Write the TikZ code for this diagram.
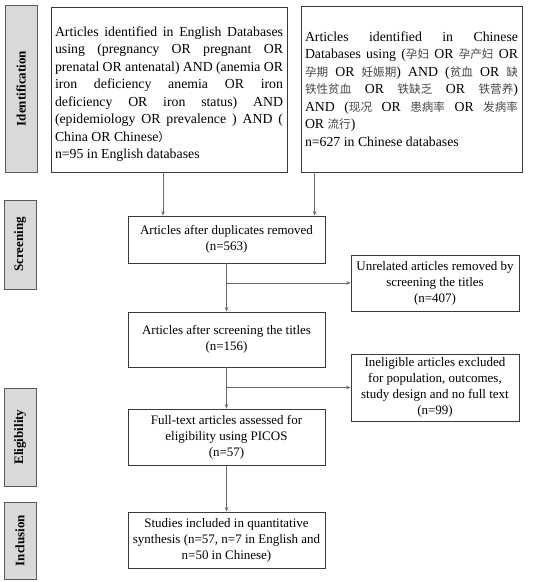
\documentclass[tikz,border=0pt]{standalone}
\usepackage{fontspec}
\setmainfont{Liberation Serif}
\newfontfamily\cjkfont[Scale=0.84]{Noto Sans CJK SC}
\newcommand{\cjk}{\cjkfont\color{black!72}}
\usetikzlibrary{arrows.meta}
\definecolor{boxline}{HTML}{3A3A3A}
\definecolor{labfill}{HTML}{D9D9D9}
\definecolor{labline}{HTML}{5A5A5A}
\definecolor{arrline}{HTML}{6A6A6A}
\tikzset{
  flowbox/.style={draw=boxline, line width=0.8pt, inner sep=0pt, align=center,
    font=\fontsize{13}{16}\selectfont},
  topbox/.style={draw=boxline, line width=0.8pt, inner sep=0pt, align=justify,
    font=\fontsize{13.8}{17.5}\selectfont},
  stagelab/.style={draw=labline, fill=labfill, line width=0.8pt, rotate=90, inner sep=0pt,
    font=\fontsize{13}{16}\selectfont\bfseries},
  arr/.style={draw=arrline, line width=0.6pt, -{Stealth[length=4.5pt,width=3.5pt]}},
}
\begin{document}
\begin{tikzpicture}[x=1pt,y=-1pt]
\useasboundingbox (0,0) rectangle (550,582);
% stage labels
\node[stagelab, minimum width=167pt, minimum height=32pt] (lid) at (21,88.5) {Identification};
\node[stagelab, minimum width=89pt, minimum height=32pt] (lsc) at (20,244.5) {Screening};
\node[stagelab, minimum width=98pt, minimum height=32pt] (lel) at (20,437) {Eligibility};
\node[stagelab, minimum width=77pt, minimum height=32pt] (lin) at (20,540.5) {Inclusion};
% top boxes
\node[topbox, minimum width=236pt, minimum height=165pt, text width=228pt] (eng) at (169,89.5)
  {\rule{0pt}{19pt}Articles identified in English Databases\linebreak
   using (pregnancy OR pregnant OR\linebreak
   prenatal OR antenatal) AND (anemia OR\linebreak
   iron deficiency anemia OR iron\linebreak
   deficiency OR iron status) AND\linebreak
   (epidemiology OR prevalence ) AND (\linebreak
   China OR Chinese{\cjkfont ）}\par
   n=95 in English databases};
\node[topbox, minimum width=221pt, minimum height=166pt, text width=213pt] (chi) at (411.5,89)
  {Articles identified in Chinese\linebreak
   Databases using ({\cjk 孕妇} OR {\cjk 孕产妇} OR\linebreak
   {\cjk 孕期} OR {\cjk 妊娠期}) AND ({\cjk 贫血} OR {\cjk 缺}\linebreak
   {\cjk 铁性贫血} OR {\cjk 铁缺乏} OR {\cjk 铁营养})\linebreak
   AND ({\cjk 现况} OR {\cjk 患病率} OR {\cjk 发病率}\linebreak
   OR {\cjk 流行})\par
   n=627 in Chinese databases};
% main flow
\node[flowbox, minimum width=197pt, minimum height=47pt] (b1) at (226.5,239.5)
  {Articles after duplicates removed\\(n=563)};
\node[flowbox, minimum width=197pt, minimum height=55pt] (b2) at (226.5,339.5)
  {Articles after screening the titles\\(n=156)};
\node[flowbox, minimum width=197pt, minimum height=56pt] (b3) at (226.5,437)
  {Full-text articles assessed for\\eligibility using PICOS\\(n=57)};
\node[flowbox, minimum width=197pt, minimum height=56pt] (b4) at (226.5,540)
  {Studies included in quantitative\\synthesis (n=57, n=7 in English and\\n=50 in Chinese)};
% exclusion boxes
\node[flowbox, minimum width=168pt, minimum height=56pt] (s1) at (435,283)
  {Unrelated articles removed by\\screening the titles\\(n=407)};
\node[flowbox, minimum width=168pt, minimum height=67pt] (s2) at (435,387.5)
  {Ineligible articles excluded\\for population, outcomes,\\study design and no full text\\(n=99)};
% connectors
\draw[arr] ([xshift=-6pt]eng.south) -- ([xshift=-6pt]eng.south |- b1.north);
\draw[arr] ([xshift=14pt]chi.south west) -- ([xshift=14pt]chi.south west |- b1.north);
\draw[arr] (b1.south) -- (b2.north);
\draw[arr] (b1.south |- s1.west) -- (s1.west);
\draw[arr] (b2.south) -- (b3.north);
\draw[arr] (b2.south |- s2.west) -- (s2.west);
\draw[arr] (b3.south) -- (b4.north);
\end{tikzpicture}
\end{document}
